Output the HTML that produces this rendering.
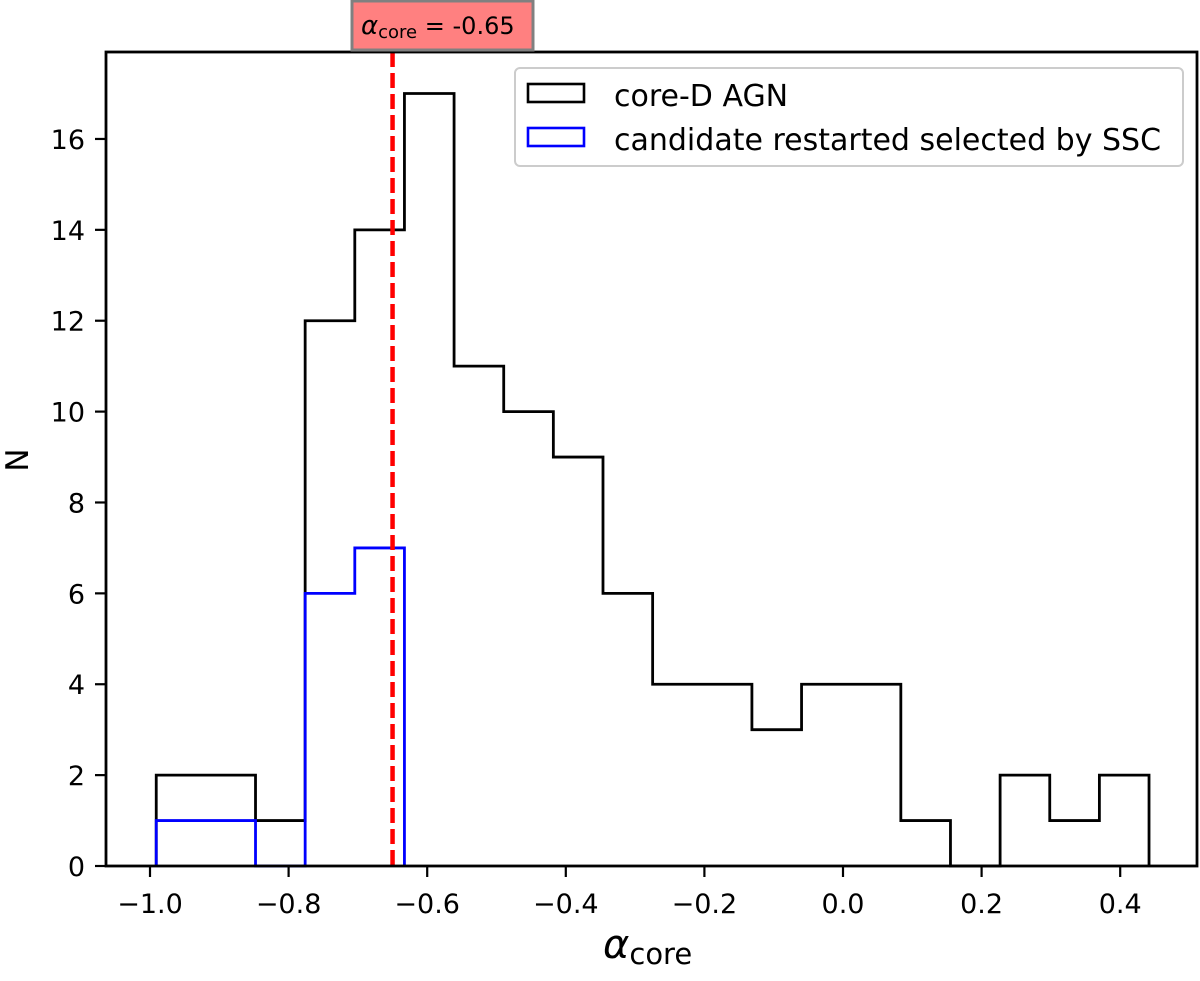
<!DOCTYPE html>
<html><head><meta charset="utf-8"><style>
body{margin:0;background:#fff}
svg text{font-family:"DejaVu Sans","Liberation Sans",sans-serif}
</style></head><body>
<svg id="c" width="1200" height="976" xmlns="http://www.w3.org/2000/svg"></svg>
<script>
const blackCounts=[2,2,1,12,14,17,11,10,9,6,4,4,3,4,4,1,0,2,1,2];
const blueCounts=[1,1,0,6,7];
const binStart=-0.991, binWidth=0.07163;
const xTicks=[-1.0,-0.8,-0.6,-0.4,-0.2,0.0,0.2,0.4];
const xTickLabels=["\u22121.0","\u22120.8","\u22120.6","\u22120.4","\u22120.2","0.0","0.2","0.4"];
const yTicks=[0,2,4,6,8,10,12,14,16];
const alphaCore=-0.65;

const L=106,R=1197,T=52,B=866;
const X=v=>843+v*693;
const Y=v=>866-v*45.44;
const svg=document.getElementById('c');
const NS='http://www.w3.org/2000/svg';
function mk(t,a,p){const e=document.createElementNS(NS,t);for(const k in a)e.setAttribute(k,a[k]);(p||svg).appendChild(e);return e;}
function stepPath(counts){
  let d='M'+X(binStart)+','+Y(0);
  counts.forEach((c,i)=>{const x0=X(binStart+i*binWidth),x1=X(binStart+(i+1)*binWidth);d+=' L'+x0+','+Y(c)+' L'+x1+','+Y(c);});
  d+=' L'+X(binStart+counts.length*binWidth)+','+Y(0);
  return d;
}
let p=mk('path',{d:stepPath(blackCounts),fill:'none',stroke:'#000','stroke-width':2.8});


p=mk('path',{d:stepPath(blueCounts),fill:'none',stroke:'#0000ff','stroke-width':2.8});


p=mk('line',{x1:X(alphaCore),x2:X(alphaCore),y1:T,y2:B,stroke:'#ff0000','stroke-width':4.5,'stroke-dasharray':'15,6'});


p=mk('rect',{x:L,y:T,width:R-L,height:B-T,fill:'none',stroke:'#000','stroke-width':2.8});


xTicks.forEach((v,i)=>{
  let l=mk('line',{x1:X(v),x2:X(v),y1:B,y2:B+11,stroke:'#000','stroke-width':2.2});
  
  
  let t=mk('text',{x:X(v),y:B+47,'text-anchor':'middle','font-size':27});
  t.textContent=xTickLabels[i];
  
  
});
yTicks.forEach(v=>{
  let l=mk('line',{x1:L-11,x2:L,y1:Y(v),y2:Y(v),stroke:'#000','stroke-width':2.2});
  
  
  let t=mk('text',{x:L-21,y:Y(v)+10,'text-anchor':'end','font-size':27});
  t.textContent=v;
  
  
});
</script>
<svg width="1200" height="976" style="position:absolute;left:0;top:0" xmlns="http://www.w3.org/2000/svg">
<text x="28" y="460" font-size="31" text-anchor="middle" transform="rotate(-90 28 460)" font-family="DejaVu Sans,sans-serif">N</text>
<text x="603" y="958" font-size="40" font-style="italic" font-family="DejaVu Sans,sans-serif">α<tspan font-size="29" font-style="normal" dy="6">core</tspan></text>
<g>
<rect x="352" y="1" width="181" height="49" fill="#ff8080" stroke="#808080" stroke-width="3"/>
<text x="361" y="34" font-size="24" font-family="DejaVu Sans,sans-serif"><tspan font-style="italic" font-size="26">α</tspan><tspan font-size="18" dy="4">core</tspan><tspan dy="-4"> = -0.65</tspan></text>
</g>
<g>
<rect x="515" y="68" width="668" height="98" rx="5" fill="#fff" stroke="#ccc" stroke-width="2"/>
<rect x="528" y="84" width="56" height="18" fill="none" stroke="#000" stroke-width="2.6"/>
<text x="614" y="106" font-size="30" font-family="DejaVu Sans,sans-serif">core-D AGN</text>
<rect x="528" y="128" width="56" height="18" fill="none" stroke="#0000ff" stroke-width="2.6"/>
<text x="614" y="150" font-size="30" font-family="DejaVu Sans,sans-serif">candidate restarted selected by SSC</text>
</g>
</svg>
</body></html>
